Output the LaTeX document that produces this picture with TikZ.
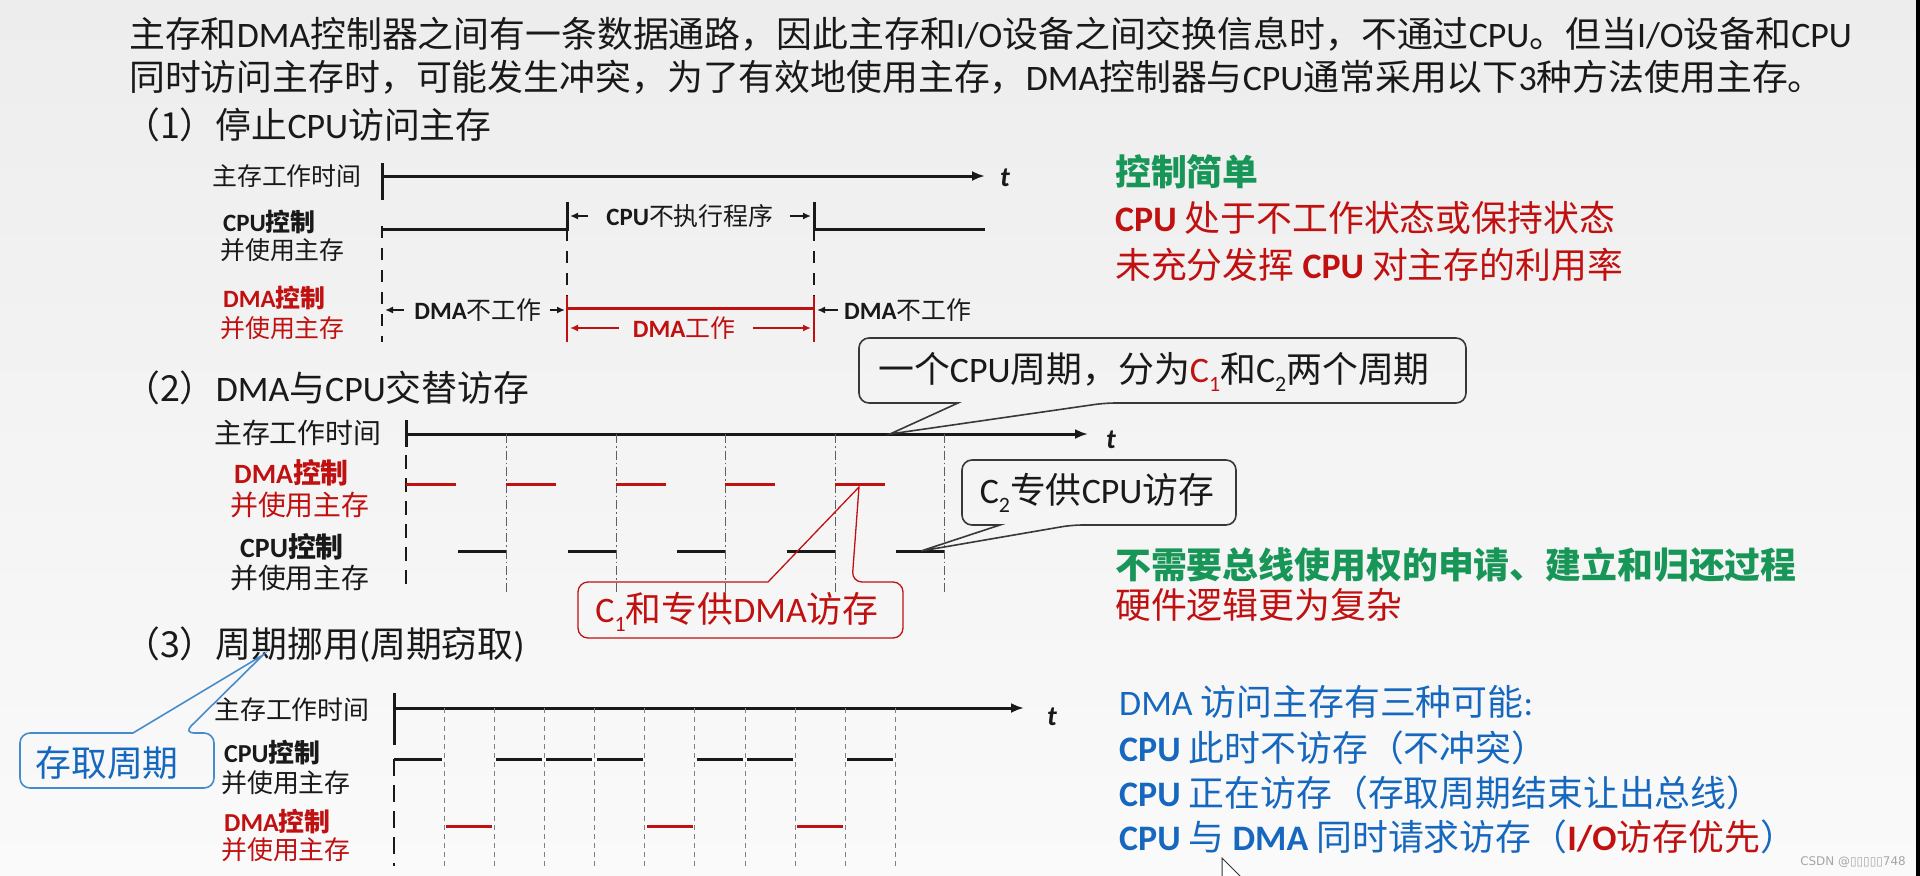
\documentclass[tikz,border=0pt]{standalone}
\usepackage{fontspec}
\setmainfont{Noto Sans CJK SC}
\newfontfamily\lat{Carlito}
\newfontfamily\dejavu{DejaVu Sans}
\usetikzlibrary{arrows.meta}
\definecolor{myred}{RGB}{192,16,16}
\definecolor{mygreen}{RGB}{24,150,88}
\definecolor{myblue}{RGB}{22,104,190}
\definecolor{cbblue}{RGB}{70,140,205}
\definecolor{bgtop}{RGB}{237,237,237}
\definecolor{bgbot}{RGB}{250,250,251}
\definecolor{dgray}{RGB}{95,95,95}
\definecolor{tcol}{RGB}{25,25,25}
\newcommand\setfs[1]{\fontsize{#1}{#1}\selectfont}
\newcommand\mysub[1]{\raisebox{-0.25em}{\fontsize{22}{22}\selectfont\lat #1}}
\newcommand\la[1]{{\lat #1}}
\newcommand\lb[1]{{\lat\bfseries #1}}
\tikzset{
 txt/.style={inner sep=0, anchor=west, text=tcol, font=\setfs{36}},
 lbl/.style={inner sep=0, anchor=west, text=tcol},
 axisline/.style={line width=3bp, draw=tcol, -{Latex[length=13bp,width=10bp]}},
 sig/.style={line width=3bp, draw=tcol},
 redsig/.style={line width=3bp, draw=myred},
 vdash/.style={line width=2.6bp, draw=tcol, dash pattern=on 12bp off 10bp},
 dd/.style={line width=1bp, draw=dgray, dash pattern=on 9bp off 3bp on 1.5bp off 3bp},
 tdash/.style={line width=0.9bp, draw=gray, dash pattern=on 5bp off 4bp},
 smallarr/.style={line width=2bp, draw=tcol, -{Latex[length=8bp,width=7bp]}},
 cline/.style={line width=1.6bp, draw=black!78},
 tlab/.style={inner sep=0, font=\lat\bfseries\itshape\setfs{28}, text=tcol},
}
\begin{document}
\begin{tikzpicture}[x=1bp,y=-1bp]
\useasboundingbox (0,0) rectangle (1920,876);
\shade[top color=bgtop, bottom color=bgbot] (0,0) rectangle (1916,876);
\fill[black] (1916,0) rectangle (1920,876);

% ---------- title ----------
\node[txt] (t1) at (129,34) {主存和\la{DMA}控制器之间有一条数据通路，因此主存和\la{I/O}设备之间交换信息时，不通过\la{CPU}。但当\la{I/O}设备和\la{CPU}};
\node[txt] (t2) at (129,77) {同时访问主存时，可能发生冲突，为了有效地使用主存，\la{DMA}控制器与\la{CPU}通常采用以下\la{3}种方法使用主存。};

% ---------- section 1 ----------
\node[txt] (h1) at (124,125) {（1）停止\la{CPU}访问主存};
\node[lbl, font=\setfs{25}] (m1) at (212,176) {主存工作时间};
\node[lbl, font=\setfs{25}\bfseries] (c1a) at (223,222) {\lb{CPU}控制};
\node[lbl, font=\setfs{25}] (c1b) at (220,250) {并使用主存};
\node[lbl, font=\setfs{25}\bfseries, text=myred] (d1a) at (223,298) {\lb{DMA}控制};
\node[lbl, font=\setfs{25}, text=myred] (d1b) at (220,328) {并使用主存};

\coordinate (a1s) at (382,176);
\coordinate (a1e) at (985,176);
\draw[axisline] (a1s) -- (a1e);
\node[tlab] (tt1) at (1005,178) {t};
\draw[sig] (382,163) -- (382,200);
\draw[vdash] (382,226) -- (382,342);
\coordinate (cpuL) at (567,216);
\coordinate (cpuR) at (814,216);
\draw[sig] (382,229) -- (567,229) -- (567,202);
\draw[sig] (814,202) -- (814,229) -- (985,229);
\draw[vdash] (567,229) -- (567,296);
\draw[vdash] (814,229) -- (814,296);
\draw[line width=2.5bp, myred] (567,296) -- (567,342);
\draw[line width=2.5bp, myred] (814,296) -- (814,342);
\draw[redsig] (567,308) -- (814,308);

\node[lbl, anchor=center, font=\setfs{25}] (cpuno) at (690,216) {\lb{CPU}不执行程序};
\draw[smallarr] ([xshift=-18bp]cpuno.west) -- ([xshift=3bp]cpuL);
\draw[smallarr] ([xshift=16bp]cpuno.east) -- ([xshift=-3bp]cpuR);

\node[lbl, anchor=center, font=\setfs{25}] (dno1) at (478,310) {\lb{DMA}不工作};
\draw[smallarr] ([xshift=-10bp]dno1.west) -- (385,310);
\draw[smallarr] ([xshift=8bp]dno1.east) -- (565,310);
\node[lbl, font=\setfs{25}] (dno2) at (844,310) {\lb{DMA}不工作};
\draw[smallarr] ([xshift=-6bp]dno2.west) -- (817,310);
\node[lbl, anchor=center, font=\setfs{25}, text=myred] (dw) at (684,328) {\lb{DMA}工作};
\draw[smallarr, draw=myred] ([xshift=-14bp]dw.west) -- (570,328);
\draw[smallarr, draw=myred] ([xshift=18bp]dw.east) -- (811,328);

\node[txt, font=\setfs{36}\bfseries, text=mygreen] (r11) at (1115,172) {控制简单};
\node[txt, text=myred] (r12) at (1115,218) {\lb{CPU} 处于不工作状态或保持状态};
\node[txt, text=myred] (r13) at (1115,265) {未充分发挥 \lb{CPU} 对主存的利用率};

% ---------- section 2 ----------
\node[txt] (h2) at (124,388) {（2）\la{DMA}与\la{CPU}交替访存};
\node[lbl, font=\setfs{28}] (m2) at (214,433) {主存工作时间};
\node[lbl, font=\setfs{28}\bfseries, text=myred] (d2a) at (234,473) {\lb{DMA}控制};
\node[lbl, font=\setfs{28}, text=myred] (d2b) at (230,505) {并使用主存};
\node[lbl, font=\setfs{28}\bfseries] (c2a) at (240,547) {\lb{CPU}控制};
\node[lbl, font=\setfs{28}] (c2b) at (230,578) {并使用主存};

\draw[axisline] (406,434) -- (1088,434);
\node[tlab] (tt2) at (1111,440) {t};
\draw[sig] (406,420) -- (406,447);
\draw[vdash, dash pattern=on 14bp off 9bp] (406,455) -- (406,593);
\foreach \b in {506,616,725,835,944} \draw[dd] (\b,434) -- (\b,593);
\foreach \a in {406,506,616,725,835} \draw[redsig] (\a,484) -- ({\a+50},484);
\foreach \b in {506,616,725,835,944} \draw[sig] ({\b-48},551) -- (\b,551);

\coordinate (p1) at (890,434);
\coordinate (p2) at (921,551);
\coordinate (p3) at (859,487);
\draw[cline] (958,403) [rounded corners=10bp] -- (859,403) -- (859,338) -- (1466,338) -- (1466,403) -- (1105,403) [sharp corners] -- (p1) -- cycle;
\node[inner sep=0, font=\setfs{36}, text=tcol] (c1t) at (1154,372) {一个\la{CPU}周期，分为\textcolor{myred}{\la{C}\mysub{1}}和\la{C}\mysub{2}两个周期};
\draw[cline] (1000,525) [rounded corners=10bp] -- (962,525) -- (962,460) -- (1236,460) -- (1236,525) -- (1072,525) [sharp corners] -- (p2) -- cycle;
\node[inner sep=0, font=\setfs{36}, text=tcol] (c2t) at (1097,493) {\la{C}\mysub{2}专供\la{CPU}访存};
\draw[line width=1.3bp, myred] (768,582) [rounded corners=10bp] -- (578,582) -- (578,638) -- (903,638) -- (903,582) -- (852,582) [sharp corners] -- (p3) -- cycle;
\node[inner sep=0, font=\setfs{36}, text=myred] (c3t) at (737,612) {\la{C}\mysub{1}和专供\la{DMA}访存};

\node[txt, font=\setfs{36}\bfseries, text=mygreen] (r21) at (1115,565) {不需要总线使用权的申请、建立和归还过程};
\node[txt, text=myred] (r22) at (1115,605) {硬件逻辑更为复杂};

% ---------- section 3 ----------
\node[txt] (h3) at (124,645) {（3）周期挪用\la{(}周期窃取\la{)}};
\coordinate (p4) at (263,655);
\draw[line width=1.6bp, cbblue] (133,733) [rounded corners=10bp] -- (20,733) -- (20,788) -- (214,788) -- (214,733) -- (184,733) [sharp corners] -- (p4) -- cycle;
\node[inner sep=0, font=\setfs{36}, text=myblue] (bt) at (107,763) {存取周期};

\node[lbl, font=\setfs{26}] (m3) at (214,710) {主存工作时间};
\node[lbl, font=\setfs{26}\bfseries] (c3a) at (224,753) {\lb{CPU}控制};
\node[lbl, font=\setfs{26}] (c3b) at (221,783) {并使用主存};
\node[lbl, font=\setfs{26}\bfseries, text=myred] (d3a) at (224,822) {\lb{DMA}控制};
\node[lbl, font=\setfs{26}, text=myred] (d3b) at (221,850) {并使用主存};

\draw[axisline] (394,708) -- (1024,708);
\node[tlab] (tt3) at (1052,717) {t};
\draw[sig] (394,693) -- (394,745);
\draw[vdash, dash pattern=on 17bp off 9bp] (394,759) -- (394,866);
\foreach \k in {1,...,10} \draw[tdash] ({394+50.15*\k},708) -- ({394+50.15*\k},866);
\draw[sig] (394,759) -- (442,759);
\foreach \k in {2,3,4,6,7,9} \draw[sig] ({394+50.15*\k+2},759) -- ({394+50.15*\k+48},759);
\foreach \k in {1,5,8} \draw[redsig] ({394+50.15*\k+2},826) -- ({394+50.15*\k+48},826);

\node[txt, text=myblue] (r31) at (1119,702) {\la{DMA} 访问主存有三种可能\la{:}};
\node[txt, text=myblue] (r32) at (1119,748) {\lb{CPU} 此时不访存（不冲突）};
\node[txt, text=myblue] (r33) at (1119,793) {\lb{CPU} 正在访存（存取周期结束让出总线）};
\node[txt, text=myblue] (r34) at (1119,837) {\lb{CPU} 与 \lb{DMA} 同时请求访存（\textcolor{myred}{\lb{I/O}访存优先}）};

% watermark and cursor
\node[inner sep=0, anchor=east, font=\dejavu\setfs{12}, text=gray!70] (wm) at (1906,862) {CSDN @▯▯▯▯▯748};
\begin{scope}
\clip (0,0) rectangle (1916,876);
\draw[fill=white, line width=1bp, draw=black!80] (1222,858) -- (1222,892) -- (1256,892) -- cycle;
\end{scope}
\end{tikzpicture}
\end{document}
